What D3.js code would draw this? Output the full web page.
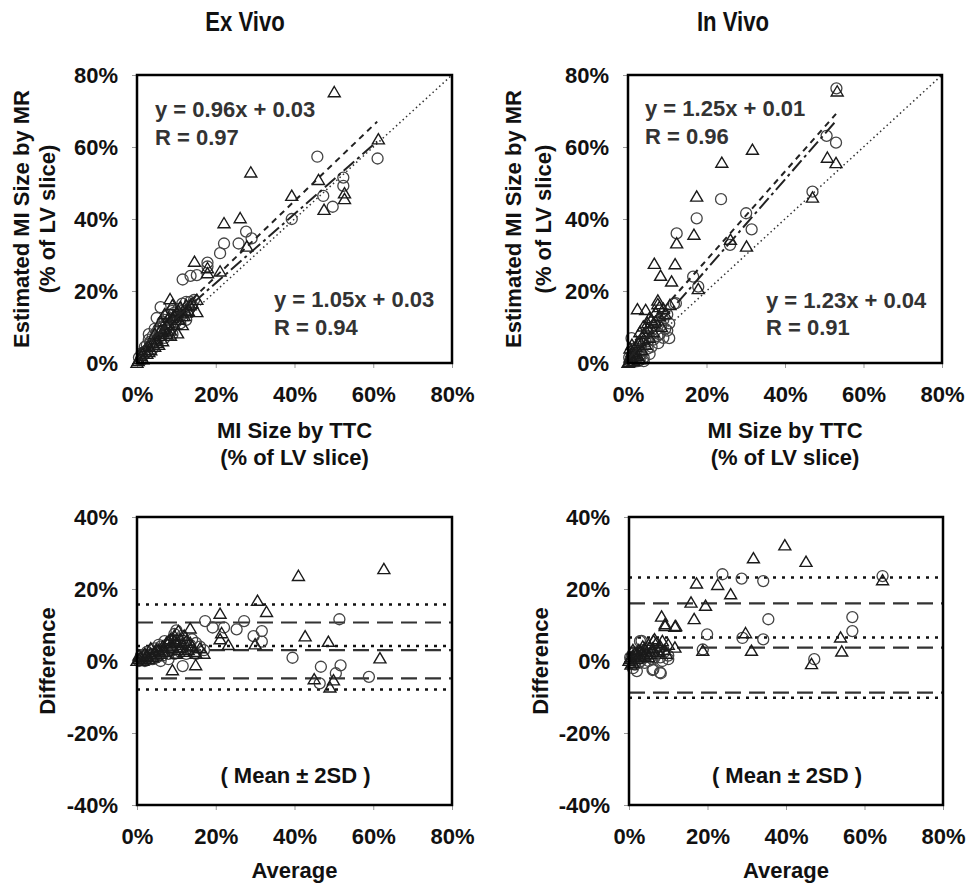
<!DOCTYPE html>
<html>
<head>
<meta charset="utf-8">
<script src="https://cdn.jsdelivr.net/npm/d3@7"></script>
<style>
  body { margin: 0; background: #fff; }
  svg text { font-family: "Liberation Sans", Arial, sans-serif; font-weight: bold; fill: #111; }
</style>
</head>
<body>
<div id="chart"></div>
<script>
// ---- data (% values) ----
const tickValues = [0, 20, 40, 60, 80];
const diffTicks = [-40, -20, 0, 20, 40];

// Ex vivo: TTC vs MR
const exCircles = [
  [45.8,57.3],[61.1,56.8],[52.4,51.5],[52.4,49.2],[47.3,46.4],[49.7,43.4],[39.3,40.0],
  [27.7,36.5],[29.1,34.6],[25.8,33.2],[22.1,33.2],[21.1,30.5],[17.9,27.9],[17.9,26.8],
  [15.2,24.4],[13.6,24.2],[11.6,23.2],
  [0.5,1.5],[1.2,2.8],[2.0,4.5],[2.5,3.2],[3.0,6.5],[3.5,5.0],[4.0,7.5],[4.5,6.0],
  [5.0,8.5],[5.5,7.0],[6.0,10.0],[6.5,9.0],[7.0,12.0],[7.5,11.0],[8.0,13.5],[8.5,10.5],
  [9.0,14.5],[9.5,12.5],[10.0,11.5],[10.5,15.0],[11.0,13.0],[11.5,16.5],[12.0,14.0],
  [12.5,17.0],[13.0,15.5],[14.0,16.0],[14.5,17.5],[6.0,15.5],[5.0,12.5],[3.0,8.0],
  [8.0,9.0],[9.0,8.0],[11.0,11.0],[4.0,4.0],[7.0,7.0],
  [1.0,1.0],[2.0,2.5],[3.5,6.0],[5.5,9.5],[6.5,11.5],[7.5,13.0],[8.5,12.0],[9.5,14.0],
  [10.5,13.5],[11.5,14.5],[12.5,12.0],[13.5,17.0],[4.5,9.5],[2.5,5.0]
];
const exTriangles = [
  [50.1,75.2],[61.3,62.1],[28.9,52.9],[46.1,50.8],[39.3,46.4],[52.7,47.1],[52.7,45.5],
  [47.5,42.5],[22.1,38.8],[26.2,40.2],[27.9,32.3],[14.6,28.1],[17.9,24.9],[21.1,25.4],
  [17.9,26.3],[8.4,17.7],[15.2,17.5],[15.2,14.1],[10.3,8.2],
  [0,0],[0.5,1.0],[1.0,2.0],[1.5,1.0],[2.0,3.5],[2.5,2.5],[3.0,4.5],[3.5,3.5],[4.0,5.5],
  [4.5,4.5],[5.0,6.5],[5.5,5.0],[6.0,7.5],[6.5,6.0],[7.0,9.5],[7.5,8.0],[8.0,11.0],
  [8.5,9.0],[9.0,12.5],[9.5,10.5],[10.0,14.0],[10.5,12.0],[11.0,15.5],[12.0,13.0],
  [12.5,16.0],[13.0,14.5],[14.0,16.5],[6.0,11.5],[7.0,13.5],[4.5,8.0],[9.0,16.0],[11.5,10.5],
  [0.3,0.5],[1.5,2.5],[3.0,3.0],[5.0,5.5],[6.5,8.5],[7.5,10.5],[8.0,12.5],[9.5,13.0],
  [10.5,14.5],[11.5,13.0],[12.5,14.0],[13.5,16.0],[8.5,7.5],[6.0,9.0]
];

// In vivo: TTC vs MR
const inCircles = [
  [53.1,76.3],[50.6,63.1],[53.0,61.2],[47.0,47.6],[23.7,45.5],[17.5,40.2],[12.4,36.0],
  [30.1,41.6],[31.5,37.1],[26.0,32.8],[16.6,24.0],[17.9,21.2],[12.2,16.6],[11.7,16.4],
  [10.5,11.0],[10.5,6.9],[7.7,5.5],[0.9,6.9],[3.1,4.6],
  [0.5,0.5],[1.0,2.0],[1.5,3.5],[2.0,1.0],[2.5,3.0],[3.0,2.0],[3.5,5.5],[4.0,1.5],
  [4.5,7.0],[5.0,4.0],[6.0,9.0],[6.5,6.5],[7.0,10.5],[8.0,8.0],[9.0,12.0],[9.5,9.5],
  [10.0,13.5],[1.0,0.5],[2.5,0.5],[4.0,0.5],
  [0.3,1.5],[1.5,0.3],[2.0,2.5],[3.0,0.8],[3.5,2.5],[5.0,6.0],[5.5,2.5],[6.0,4.5],
  [7.5,7.5],[8.5,10.5],[9.0,7.0],[10.0,9.0]
];
const inTriangles = [
  [53.3,75.4],[31.7,59.2],[23.9,55.6],[50.8,57.0],[53.0,55.5],[17.5,46.2],[16.8,35.6],
  [12.4,33.2],[47.0,45.9],[30.2,32.3],[26.1,34.2],[6.7,27.5],[12.0,27.4],[8.3,24.2],
  [11.1,22.6],[17.9,20.5],[2.4,14.9],[4.5,14.7],[7.6,17.3],[7.6,16.3],[10.7,16.1],
  [3.9,10.1],[6.5,11.0],
  [0,0],[0.5,1.5],[1.0,3.0],[1.5,0.5],[2.0,4.5],[2.5,2.0],[3.0,6.0],[3.5,3.5],[4.0,8.0],
  [4.5,5.0],[5.0,9.5],[5.5,7.0],[6.0,12.0],[6.5,8.5],[7.0,14.0],[8.0,13.0],[8.5,10.0],
  [9.0,15.0],[1.0,1.0],[2.0,2.0],[3.0,1.0],[0.5,4.0],
  [0.3,0.3],[1.0,5.0],[1.5,2.5],[2.5,5.5],[3.0,8.5],[4.0,6.5],[5.0,11.0],[5.5,12.5],
  [7.0,11.5],[8.0,15.5],[9.5,13.5]
];

// regression fits: [slope, intercept(%), xMax(%)]
const exFits = [[1.05, 3, 61], [0.96, 3, 61]];
const inFits = [[1.23, 4, 53], [1.25, 1, 53]];

// Bland-Altman: average vs difference
const exBACircles = [
  [51.4,11.6],[17.3,11.1],[27.2,11.1],[19.2,9.3],[22.1,9.3],[25.3,8.8],[31.7,8.3],
  [29.6,6.9],[31.7,5.4],[39.5,0.9],[46.7,-1.6],[51.7,-1.2],[50.5,-3.4],[46.4,-6.2],
  [58.9,-4.4],[11.6,-1.4],
  [0.5,0],[1,0.5],[1.5,1],[2,0],[2.5,0.5],[3,1.5],[3.5,0.5],[4,2],[4.5,3.5],[5,1],
  [5.5,2.5],[6,4],[6.5,1.5],[7,3],[7.5,4.5],[8,2],[8.5,5.5],[9,3],[9.5,7.5],[10,8.5],
  [10.5,4],[11,2.5],[12,5],[13,3.5],[14,6],[15,2],[16,4],[17,3],[6,0],[8,0.5],
  [1,1.5],[2.5,2.5],[4,0.5],[5.5,4.5],[7,5.5],[8.5,3.5],[9.5,2],[10.5,6],[11.5,7],
  [12.5,2],[13.5,4.5],[15,5]
];
const exBATriangles = [
  [41.0,23.6],[62.7,25.5],[30.6,16.7],[32.9,13.6],[21.1,13.1],[13.5,9.0],[42.7,6.8],
  [48.6,5.3],[21.5,7.7],[21.1,6.0],[23.2,4.4],[30.0,4.6],[61.7,0.7],[45.0,-5.1],
  [49.9,-5.4],[49.0,-7.4],[9.0,-2.6],[14.9,-1.2],[10.5,8.3],
  [0,0],[0.5,0.5],[1,1],[1.5,0],[2,0.5],[2.5,1.5],[3,0.5],[3.5,2],[4,1],[4.5,2.5],
  [5,1.5],[5.5,3],[6,2],[6.5,4],[7,2.5],[7.5,5],[8,3.5],[8.5,6],[9,4],[9.5,7],[10,5],
  [10.5,3],[11,6],[11.5,4.5],[12,2.5],[12.5,5.5],[13,3],[14,4],[15,2],[16,3.5],[17,2],
  [0.5,1.5],[2,2],[3.5,3.5],[5,3],[6.5,2.5],[8,5.5],[9.5,5.5],[10,2],[11,3.5],[12,7],
  [13.5,5],[14.5,2.5]
];
const inBACircles = [
  [64.6,23.6],[23.8,24.1],[28.7,22.9],[34.2,22.2],[35.5,11.6],[56.9,12.2],[56.9,8.3],
  [19.9,7.4],[28.9,6.4],[34.2,6.0],[18.8,3.2],[47.2,0.5],[10.0,0.5],[8.1,-3.4],
  [6.0,-2.5],[2.0,-2.8],[3.2,5.6],[2.8,5.5],[7.9,-3.2],[6.2,-2.3],
  [0.5,0.5],[1,2],[1.5,-1],[2,1],[2.5,2.5],[3,0],[3.5,3],[4,-0.5],[4.5,1.5],[5,3.5],
  [6,0.5],[7,2],[8,1],[9,2.5],[10,1.5],[1,-2],
  [0.3,1],[1.5,0.5],[2.5,-0.5],[3,1.5],[4,2],[5,0],[5.5,2],[6.5,1],[7.5,3],[8.5,0]
];
const inBATriangles = [
  [39.7,32.1],[31.7,28.5],[45.1,27.5],[17.2,21.5],[22.6,21.1],[64.6,22.4],[25.9,18.5],
  [15.8,16.2],[19.5,15.3],[16.6,11.6],[8.3,12.3],[9.2,9.7],[11.9,9.7],[29.7,7.7],
  [53.9,6.5],[18.8,2.8],[31.2,2.8],[54.2,2.6],[46.5,-0.9],[9.2,10.2],[11.7,9.5],
  [6.2,5.6],[11.7,3.7],
  [0,0],[0.5,1],[1,-0.5],[1.5,2],[2,0.5],[2.5,3],[3,1],[3.5,4],[4,1.5],[4.5,2.5],
  [5,4.5],[5.5,2],[6,3.5],[7,5],[7.5,2.5],[8,4],[9,3],[10,4.5],[1,1.5],[0.5,-1],
  [0.3,0.5],[1,3],[2,2],[3,2.5],[4,3.5],[5,1],[6,2.5],[6.5,6],[8.5,5.5],[9.5,2]
];

// mean and +/-2SD limits
const exDashedLimits = [10.7, 3.0, -4.8];
const exDottedLimits = [15.7, 4.2, -7.9];
const inDashedLimits = [16.0, 3.7, -8.8];
const inDottedLimits = [23.2, 6.5, -10.2];

// ---- drawing ----
const W = 967, H = 884;
const svg = d3.select("#chart").append("svg").attr("width", W).attr("height", H);

const triPath = "M0,-5.8L6,4.4L-6,4.4Z";
const fontFamily = "'Liberation Sans', Arial, sans-serif";

function panel(box, yDomain, yTicks) {
  const g = svg.append("g");
  const x = d3.scaleLinear().domain([0, 80]).range([box.x0, box.x1]);
  const y = d3.scaleLinear().domain(yDomain).range([box.y1, box.y0]);

  const styleAxis = a => {
    a.select(".domain").remove();
    a.selectAll("line").attr("stroke", "#999");
    a.selectAll("text").attr("font-size", 22).attr("fill", "#111")
      .style("font-family", fontFamily).style("font-weight", "bold");
  };

  g.append("g")
    .attr("transform", `translate(${box.x0},0)`)
    .call(d3.axisLeft(y).tickValues(yTicks).tickFormat(d => d + "%").tickSize(5).tickPadding(14))
    .call(styleAxis);

  g.append("g")
    .attr("transform", `translate(0,${box.y1})`)
    .call(d3.axisBottom(x).tickValues(tickValues).tickFormat(d => d + "%").tickSize(5).tickPadding(18))
    .call(styleAxis);

  return { g, x, y };
}

function scatter(p, circles, triangles) {
  p.g.append("g").selectAll("circle").data(circles).join("circle")
    .attr("cx", d => p.x(d[0])).attr("cy", d => p.y(d[1])).attr("r", 5.5)
    .attr("fill", "none").attr("stroke", "#444").attr("stroke-width", 1.3);
  p.g.append("g").selectAll("path").data(triangles).join("path")
    .attr("d", triPath)
    .attr("transform", d => `translate(${p.x(d[0])},${p.y(d[1])})`)
    .attr("fill", "none").attr("stroke", "#1a1a1a").attr("stroke-width", 1.4);
}

function frame(box) {
  svg.append("rect")
    .attr("x", box.x0).attr("y", box.y0)
    .attr("width", box.x1 - box.x0).attr("height", box.y1 - box.y0)
    .attr("fill", "none").attr("stroke", "#000").attr("stroke-width", 2.5);
}

function text(x, y, str, opts = {}) {
  const t = svg.append("text")
    .attr("x", x).attr("y", y).attr("dy", "0.35em")
    .attr("text-anchor", opts.anchor || "middle")
    .attr("font-size", opts.size || 21)
    .text(str);
  if (opts.rotate) t.attr("transform", `rotate(-90,${x},${y})`);
  if (opts.squeeze) t.attr("transform", `translate(${x},0) scale(${opts.squeeze},1) translate(${-x},0)`);
  if (opts.fill) t.style("fill", opts.fill);
  return t;
}

function correlationPanel(box, circles, triangles, fits, eqs) {
  const p = panel(box, [0, 80], tickValues);
  // line of identity
  p.g.append("line")
    .attr("x1", p.x(0)).attr("y1", p.y(0)).attr("x2", p.x(80)).attr("y2", p.y(80))
    .attr("stroke", "#333").attr("stroke-width", 1.5).attr("stroke-dasharray", "1.5,3");
  scatter(p, circles, triangles);
  const dashes = ["6,5", "14,4,3,4"];
  fits.forEach((f, i) => {
    p.g.append("line")
      .attr("x1", p.x(0)).attr("y1", p.y(f[1]))
      .attr("x2", p.x(f[2])).attr("y2", p.y(f[0] * f[2] + f[1]))
      .attr("stroke", "#222").attr("stroke-width", 2).attr("stroke-dasharray", dashes[i]);
  });
  frame(box);
  eqs.forEach(e => text(e.x, e.y, e.t, { anchor: "start", fill: "#333", size: 22 }));
}

function blandAltmanPanel(box, circles, triangles, dashed, dotted) {
  const p = panel(box, [-40, 40], diffTicks);
  p.g.append("g").selectAll("line").data(dotted).join("line")
    .attr("x1", box.x0).attr("x2", box.x1)
    .attr("y1", d => p.y(d)).attr("y2", d => p.y(d))
    .attr("stroke", "#111").attr("stroke-width", 2.5).attr("stroke-dasharray", "3,6");
  p.g.append("g").selectAll("line").data(dashed).join("line")
    .attr("x1", box.x0).attr("x2", box.x1)
    .attr("y1", d => p.y(d)).attr("y2", d => p.y(d))
    .attr("stroke", "#333").attr("stroke-width", 2.2).attr("stroke-dasharray", "16,8");
  scatter(p, circles, triangles);
  frame(box);
}

const boxTL = { x0: 137, x1: 452, y0: 75, y1: 363 };
const boxTR = { x0: 628, x1: 942, y0: 75, y1: 363 };
const boxBL = { x0: 137, x1: 452, y0: 517, y1: 805 };
const boxBR = { x0: 629, x1: 943, y0: 517, y1: 805 };

correlationPanel(boxTL, exCircles, exTriangles, exFits, [
  { x: 155, y: 109, t: "y = 0.96x + 0.03" }, { x: 155, y: 137, t: "R = 0.97" },
  { x: 274, y: 299, t: "y = 1.05x + 0.03" }, { x: 274, y: 327, t: "R = 0.94" }
]);
correlationPanel(boxTR, inCircles, inTriangles, inFits, [
  { x: 645, y: 108, t: "y = 1.25x + 0.01" }, { x: 645, y: 136, t: "R = 0.96" },
  { x: 766, y: 300, t: "y = 1.23x + 0.04" }, { x: 766, y: 327, t: "R = 0.91" }
]);
blandAltmanPanel(boxBL, exBACircles, exBATriangles, exDashedLimits, exDottedLimits);
blandAltmanPanel(boxBR, inBACircles, inBATriangles, inDashedLimits, inDottedLimits);

// titles (condensed look)
text(245, 22, "Ex Vivo", { size: 27, squeeze: 0.82 });
text(733, 22, "In Vivo", { size: 27, squeeze: 0.82 });

// axis titles, top row
[[boxTL, 21, 47], [boxTR, 513, 543]].forEach(([b, xa, xb]) => {
  const cx = (b.x0 + b.x1) / 2, cy = (b.y0 + b.y1) / 2;
  text(cx, b.y1 + 67, "MI Size by TTC", { size: 22 });
  text(cx, b.y1 + 94, "(% of LV slice)", { size: 22 });
  text(xa, cy, "Estimated MI Size by MR", { size: 22, rotate: true });
  text(xb, cy, "(% of LV slice)", { size: 22, rotate: true });
});

// axis titles, bottom row
[[boxBL, 47], [boxBR, 540]].forEach(([b, xa]) => {
  const cx = (b.x0 + b.x1) / 2, cy = (b.y0 + b.y1) / 2;
  text(cx, b.y1 + 65, "Average", { size: 22 });
  text(xa, cy, "Difference", { size: 22, rotate: true });
  text(cx + 1, 775, "( Mean \u00b1 2SD )", { size: 22 });
});
</script>
</body>
</html>
